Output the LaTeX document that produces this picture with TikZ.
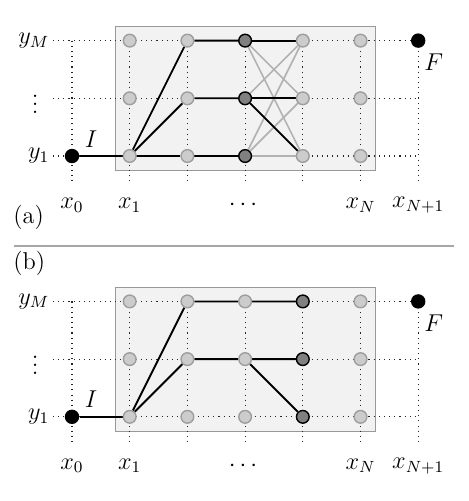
\documentclass[tikz,border=0pt]{standalone}
\usepackage{amsmath,amssymb}
\usepackage{xcolor}
\usepackage{tikz}
\usetikzlibrary{positioning,calc}

\pgfdeclarelayer{boxlayer}
\pgfdeclarelayer{edgelayer}
\pgfsetlayers{boxlayer,edgelayer,main}

\begin{document}
\begin{tikzpicture}[
    font=\large,
    gridline/.style={dotted, line width=0.55pt, black!85},
    state/.style={circle, draw=black!38, fill=black!20, line width=0.7pt, inner sep=0pt, minimum size=0.22cm},
    chosen/.style={state, draw=black, fill=black!50},
    terminal/.style={circle, fill=black, inner sep=0pt, minimum size=0.25cm},
    route/.style={line width=0.9pt},
    option/.style={black!30, line width=0.8pt}
]
    \useasboundingbox (-1.248,-5.979) rectangle (6.863,2.704);

    % both lattices
    \foreach \p/\dy/\sel in {a/0/3, b/-4.52/4} {
        \begin{scope}[yshift=\dy cm]
            \begin{pgfonlayer}{boxlayer}
                \draw[draw=black!40, fill=black!5] (0.75,-0.25) rectangle (5.25,2.25);
                \foreach \j in {0,1,2} \draw[gridline] (-0.33,\j) -- (6,\j);
                \foreach \i in {0,...,6} \draw[gridline] (\i,2) -- (\i,-0.5);
            \end{pgfonlayer}
            \foreach \i in {1,...,5} \foreach \j in {0,1,2} {
                \ifnum\i=\sel \def\look{chosen}\else \def\look{state}\fi
                \node[\look] (\p-\i-\j) at (\i,\j) {};
            }
            \node[terminal] (\p-0-0) at (0,0) {};
            \node[terminal] (\p-6-2) at (6,2) {};
            \node (\p-I) at (0.33,0.3) {$I$};
            \node (\p-F) at (6.27,1.62) {$F$};
            \node[anchor=east] (\p-yM) at (-0.27,2) {$y_M$};
            \node[inner sep=0pt] (\p-ydots) at (-0.64,1) {$\vdots$};
            \node[anchor=east] (\p-y1) at (-0.27,0) {$y_1$};
            \node (\p-x0) at (0,-0.85) {$x_0$};
            \node (\p-x1) at (1,-0.85) {$x_1$};
            \node (\p-xdots) at (3,-0.85) {$\cdots$};
            \node (\p-xN) at (5,-0.85) {$x_N$};
            \node (\p-xN1) at (6,-0.85) {$x_{N+1}$};
        \end{scope}
    }

    % (a)
    \begin{pgfonlayer}{edgelayer}
        \foreach \j in {0,1,2} \foreach \k in {0,1,2} \draw[option] (a-3-\j) -- (a-4-\k);
        \draw[route] (a-0-0) -- (a-1-0);
        \foreach \j in {0,1,2} \draw[route] (a-1-0) -- (a-2-\j) -- (a-3-\j);
        \draw[route] (a-3-2) -- (a-4-2);
        \draw[route] (a-3-1) -- (a-4-1);
        \draw[route] (a-3-1) -- (a-4-0);
    \end{pgfonlayer}
    \node[anchor=west] (tag-a) at (-1.14,-1.07) {(a)};

    \draw[black!35, line width=1pt] (-1.0,-1.56) -- (6.62,-1.56);

    % (b)
    \begin{pgfonlayer}{edgelayer}
        \draw[route] (b-0-0) -- (b-1-0);
        \draw[route] (b-1-0) -- (b-2-2) -- (b-3-2) -- (b-4-2);
        \draw[route] (b-1-0) -- (b-2-1) -- (b-3-1) -- (b-4-1);
        \draw[route] (b-3-1) -- (b-4-0);
    \end{pgfonlayer}
    \node[anchor=west] (tag-b) at (-1.14,-1.87) {(b)};
\end{tikzpicture}
\end{document}
